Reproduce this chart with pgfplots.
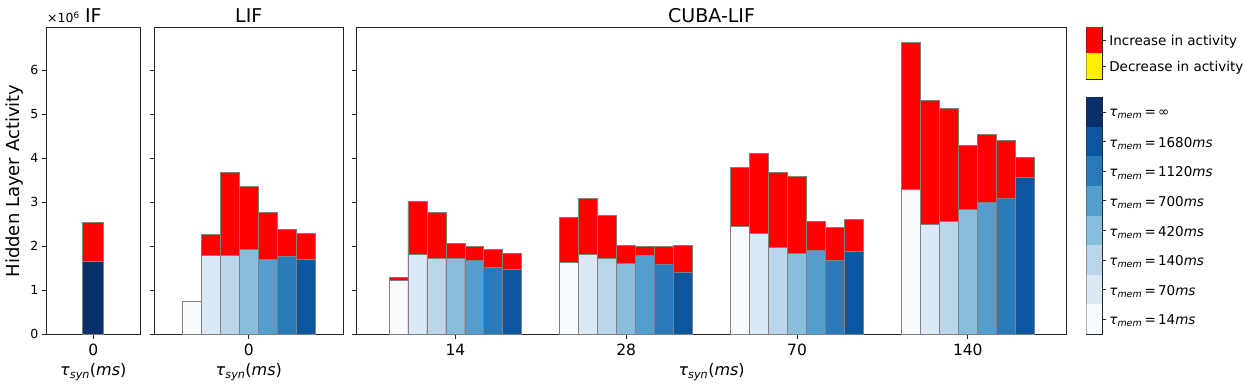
\documentclass[border=0pt]{standalone}
\usepackage{fontspec}
\setmainfont{DejaVu Sans}
\usepackage{pgfplots}
\usepackage{pgfplotstable}
\pgfplotsset{compat=1.18}

% Blues, one shade per tau_mem
\definecolor{c1}{HTML}{F7FBFF}
\definecolor{c2}{HTML}{DBE9F6}
\definecolor{c3}{HTML}{BBD6EB}
\definecolor{c4}{HTML}{88BEDC}
\definecolor{c5}{HTML}{549ECD}
\definecolor{c6}{HTML}{2A7ABA}
\definecolor{c7}{HTML}{0C56A0}
\definecolor{c8}{HTML}{08306B}

% b = activity of the base run, t = activity after the change (x 10^6)
\pgfplotstableread{
x b8 t8
0 1.65 2.54
}\iftab
\pgfplotstableread{
x b1 b2 b3 b4 b5 b6 b7 t1 t2 t3 t4 t5 t6 t7
0 0.74 1.79 1.79 1.93 1.71 1.77 1.70 0.74 2.27 3.67 3.36 2.77 2.38 2.29
}\liftab
\pgfplotstableread{
x b1 b2 b3 b4 b5 b6 b7 t1 t2 t3 t4 t5 t6 t7
0 1.23 1.82 1.73 1.73 1.68 1.52 1.48 1.30 3.02 2.77 2.07 2.00 1.93 1.84
1 1.64 1.82 1.73 1.61 1.80 1.59 1.41 2.66 3.09 2.70 2.02 2.00 2.00 2.02
2 2.45 2.30 1.98 1.84 1.91 1.68 1.89 3.80 4.11 3.68 3.59 2.57 2.43 2.61
3 3.30 2.50 2.57 2.84 3.00 3.09 3.57 6.64 5.32 5.14 4.30 4.55 4.41 4.02
}\cubatab

\newcommand{\tsyn}{\textit{τ}\textsubscript{\textit{syn}}(\textit{ms})}
\newcommand{\tmem}[1]{\textit{τ}\textsubscript{\textit{mem}}\,=\,#1}

\pgfplotsset{
  panel/.style={
    scale only axis, anchor=south west, height=306.6pt,
    ymin=0, ymax=6.97, enlargelimits=false,
    axis line style={black!85, line width=1pt},
    tick style={black!85, line width=0.9pt},
    major tick length=4.5pt, tick align=outside, tick pos=left,
    ytick={0,1,2,3,4,5,6},
    /pgf/number format/assume math mode=true,
    yticklabel style={font=\fontsize{12.5}{14}\selectfont},
    xticklabel style={font=\fontsize{15.5}{18}\selectfont, anchor=base, yshift=-16.2pt},
    every axis title/.style={at={(0.5,1)}, anchor=base, yshift=5pt,
      font=\fontsize{19}{22}\selectfont},
    every axis x label/.style={at={(axis description cs:0.5,0)}, anchor=center, yshift=-38pt,
      font=\fontsize{16}{18}\selectfont},
    xlabel={\tsyn},
  },
  bars/.style={ybar, bar width=0.1111, draw=gray, line width=0.8pt},
  sh1/.style={bar shift=-0.3333},
  sh2/.style={bar shift=-0.2222},
  sh3/.style={bar shift=-0.1111},
  sh4/.style={bar shift=0},
  sh5/.style={bar shift=0.1111},
  sh6/.style={bar shift=0.2222},
  sh7/.style={bar shift=0.3333},
  sh8/.style={bar shift=0},
  cbar/.style={
    scale only axis, anchor=south west, width=16pt,
    xmin=0, xmax=1, xtick=\empty, enlargelimits=false,
    axis line style={black!85, line width=1pt},
    tick style={black!85, line width=0.9pt},
    major tick length=3.5pt, tick align=outside,
    ytick pos=right, yticklabel pos=right,
    yticklabel style={font=\fontsize{13.5}{16}\selectfont, anchor=west, yshift=-1.8pt},
  },
}

\begin{document}
\begin{tikzpicture}
\path[use as bounding box] (0,0) rectangle (1246pt,388pt);

% IF
\begin{axis}[panel, at={(46.3pt,53.7pt)}, width=94pt,
  xmin=-0.25, xmax=0.25, xtick={0}, title={IF},
  ylabel={Hidden Layer Activity},
  every axis y label/.style={at={(axis description cs:-0.333,0.5)}, rotate=90,
    anchor=center, font=\fontsize{18}{22}\selectfont}]
\addplot[bars, sh8, fill=red] table[x=x, y=t8]{\iftab};
\addplot[bars, sh8, fill=c8] table[x=x, y=b8]{\iftab};
\end{axis}
\node[anchor=base west, font=\fontsize{12.5}{14}\selectfont, inner sep=0pt]
  at (47pt,365pt) {×10\textsuperscript{6}};

% LIF
\begin{axis}[panel, at={(154.3pt,53.7pt)}, width=189pt,
  xmin=-0.553, xmax=0.553, xtick={0}, yticklabels={}, title={LIF}]
\pgfplotsinvokeforeach{1,...,7}{
  \addplot[bars, sh#1, fill=red] table[x=x, y=t#1]{\liftab};
  \addplot[bars, sh#1, fill=c#1] table[x=x, y=b#1]{\liftab};
}
\end{axis}

% CUBA-LIF
\begin{axis}[panel, at={(356.7pt,53.7pt)}, width=709.8pt,
  xmin=-0.578, xmax=3.578, xtick={0,1,2,3}, xticklabels={14,28,70,140},
  yticklabels={}, title={CUBA-LIF}]
\pgfplotsinvokeforeach{1,...,7}{
  \addplot[bars, sh#1, fill=red] table[x=x, y=t#1]{\cubatab};
  \addplot[bars, sh#1, fill=c#1] table[x=x, y=b#1]{\cubatab};
}
\end{axis}

% colour keys
\begin{axis}[cbar, at={(1086.3pt,308.7pt)}, height=52pt, ymin=0, ymax=2,
  ytick={0.5,1.5}, yticklabels={Decrease in activity, Increase in activity}]
\fill[yellow] (axis cs:0,0) rectangle (axis cs:1,1);
\fill[red] (axis cs:0,1) rectangle (axis cs:1,2);
\end{axis}

\begin{axis}[cbar, at={(1086.3pt,54pt)}, height=236.7pt, ymin=0, ymax=8,
  ytick={0.5,1.5,...,7.5},
  yticklabels={\tmem{14\textit{ms}}, \tmem{70\textit{ms}}, \tmem{140\textit{ms}},
    \tmem{420\textit{ms}}, \tmem{700\textit{ms}}, \tmem{1120\textit{ms}},
    \tmem{1680\textit{ms}}, \tmem{∞}}]
\fill[c1] (axis cs:0,0) rectangle (axis cs:1,1);
\fill[c2] (axis cs:0,1) rectangle (axis cs:1,2);
\fill[c3] (axis cs:0,2) rectangle (axis cs:1,3);
\fill[c4] (axis cs:0,3) rectangle (axis cs:1,4);
\fill[c5] (axis cs:0,4) rectangle (axis cs:1,5);
\fill[c6] (axis cs:0,5) rectangle (axis cs:1,6);
\fill[c7] (axis cs:0,6) rectangle (axis cs:1,7);
\fill[c8] (axis cs:0,7) rectangle (axis cs:1,8);
\end{axis}
\end{tikzpicture}
\end{document}
